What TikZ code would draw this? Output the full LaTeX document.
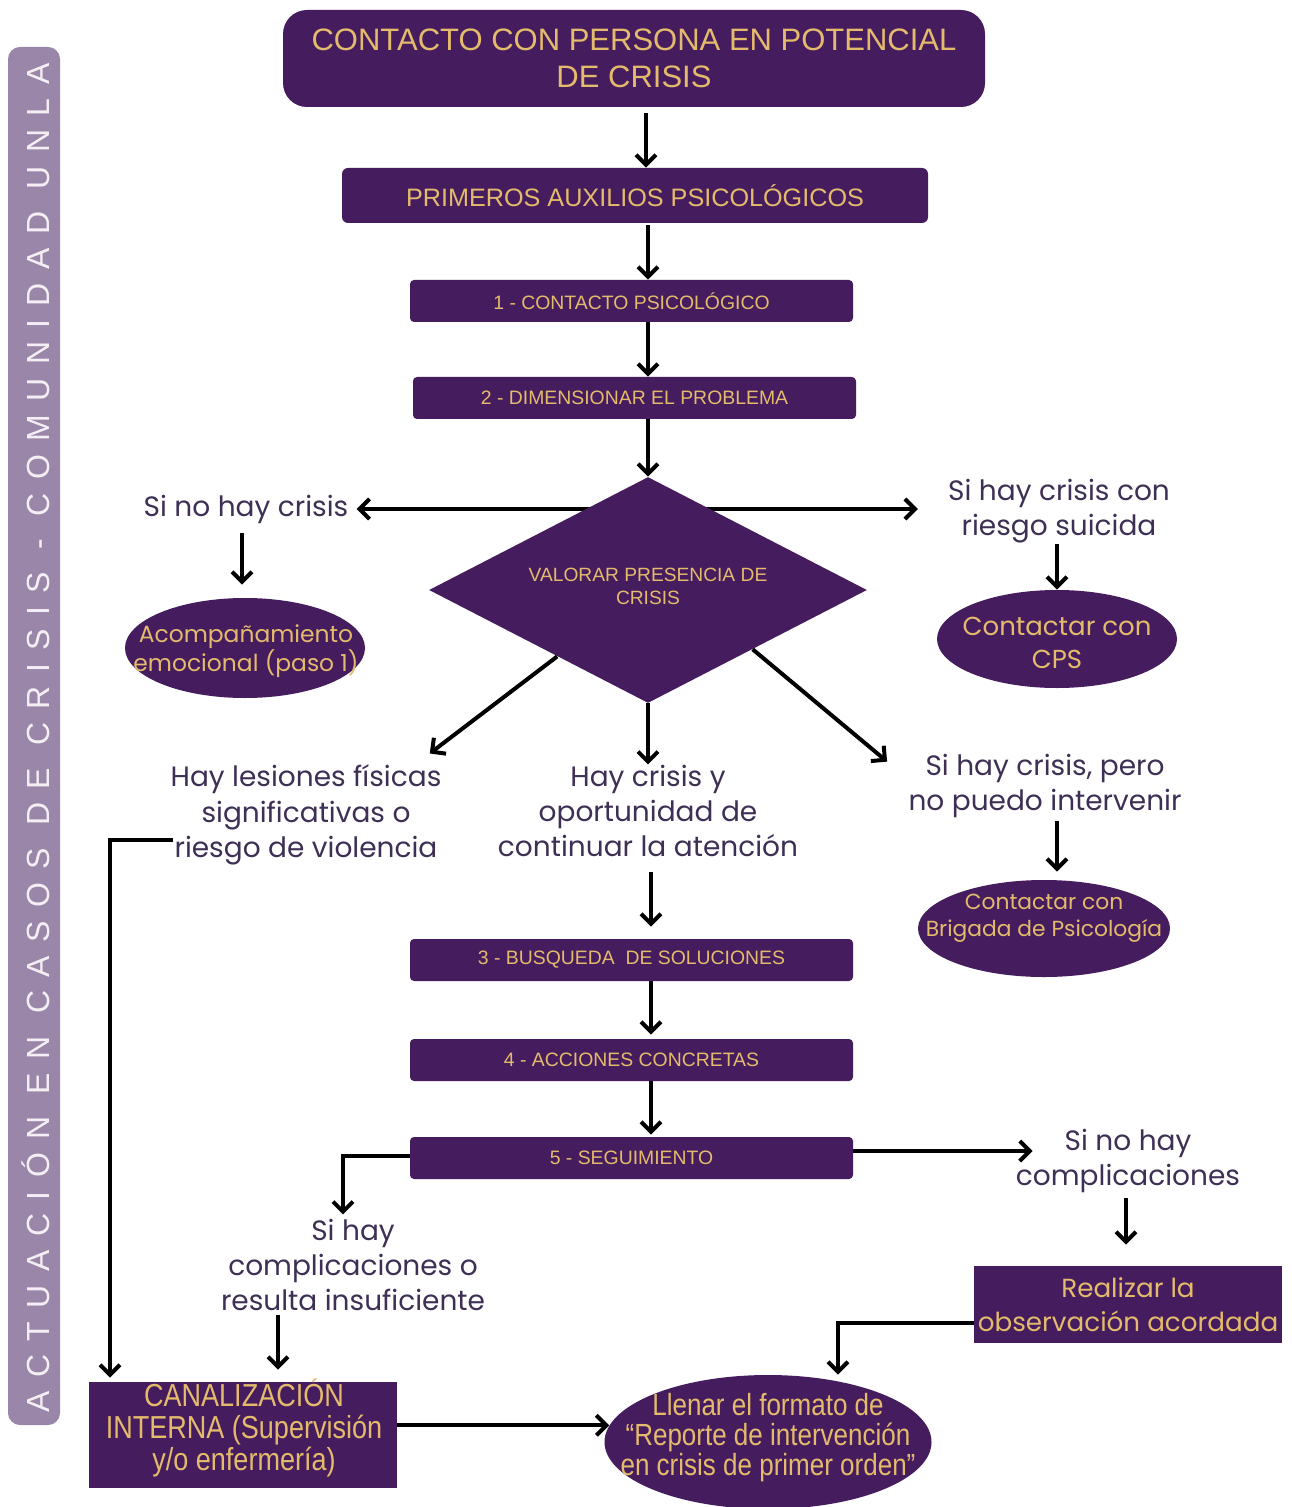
\documentclass[tikz,border=0pt]{standalone}
\usepackage{fontspec}
\setmainfont{Liberation Sans}
\newfontfamily\labfont{Poppins}
\newfontfamily\narrowfont[FakeStretch=0.85]{Liberation Sans}
\newfontfamily\sidefont[LetterSpace=42]{Liberation Sans}
\usetikzlibrary{shapes.geometric,arrows.meta,calc}
\definecolor{pur}{HTML}{451D5E}
\definecolor{gold}{HTML}{E4BA6C}
\definecolor{lab}{HTML}{3E2F55}
\definecolor{side}{HTML}{9A86A8}
\definecolor{sidetxt}{HTML}{F3EFF5}
\begin{document}
\begin{tikzpicture}[x=0.5pt,y=-0.5pt,
  box/.style={rectangle, fill=pur, text=gold, inner sep=0pt, align=center},
  bar/.style={box, minimum width=221.5pt, minimum height=21pt, rounded corners=2pt, font=\fontsize{9.7}{11}\selectfont},
  oval/.style={ellipse, fill=pur, inner sep=0pt},
  ovaltext/.style={text=gold, inner sep=0pt, align=center},
  lbl/.style={text=lab, align=center, inner sep=0pt, font=\labfont\fontsize{14}{17.7}\selectfont},
  arr/.style={line width=2pt, -{Straight Barb[length=5pt,width=10pt]}}]
\useasboundingbox (0,0) rectangle (1291,1507);
\fill[white] (0,0) rectangle (1291,1507);

% side bar
\fill[side, rounded corners=6pt] (8,47) rectangle (60,1425);
\node[rotate=90, text=sidetxt, inner sep=0pt, font=\sidefont\fontsize{16}{16}\selectfont] (sidet) at (36,738) {ACTUACIÓN EN CASOS DE CRISIS - COMUNIDAD UNLA};

% axis coordinates
\coordinate (a646) at (646,0);
\coordinate (a648) at (648,0);
\coordinate (a651) at (651,0);
\coordinate (a242) at (242,0);
\coordinate (a1057) at (1057,0);
\coordinate (a343) at (343,0);
\coordinate (a278) at (278,0);
\coordinate (a1126) at (1126,0);
\coordinate (a838) at (838,0);
\coordinate (a110) at (110,0);

% top boxes
\node[box, minimum width=351pt, minimum height=48.5pt, rounded corners=12pt, font=\fontsize{15.5}{18.5}\selectfont] (top) at (634,58.5) {CONTACTO CON PERSONA EN POTENCIAL\\DE CRISIS};
\node[box, minimum width=293pt, minimum height=27.5pt, rounded corners=3pt, font=\fontsize{12.6}{14}\selectfont] (prim) at (635,195.5) {PRIMEROS AUXILIOS PSICOLÓGICOS};
\node[bar] (c1) at (631.5,301) {1 - CONTACTO PSICOLÓGICO};
\node[bar] (c2) at (634.5,398) {2 - DIMENSIONAR EL PROBLEMA};

% side labels of the decision
\node[lbl] (nocrisis) at (246,509) {Si no hay crisis};
\node[lbl] (suic) at (1059,511) {Si hay crisis con\\riesgo suicida};
\draw[line width=2pt, {Straight Barb[length=5pt,width=10pt]}-{Straight Barb[length=5pt,width=10pt]}, shorten <=4pt, shorten >=15pt] (nocrisis.east) -- (suic.west |- nocrisis.east);

% decision
\node[diamond, aspect=2, fill=pur, inner sep=0pt, minimum width=219pt, minimum height=113pt] (d) at (648,590) {};
\node[ovaltext, font=\fontsize{9.6}{11.5}\selectfont] (dT) at (648,586) {VALORAR PRESENCIA DE\\CRISIS};

\node[oval, minimum width=120pt, minimum height=50pt] (acomp) at (245,648) {};
\node[ovaltext, font=\labfont\fontsize{11.7}{14.5}\selectfont] (acompT) at (246,651) {Acompañamiento\\emocional (paso 1)};
\node[oval, minimum width=120pt, minimum height=49pt] (cps) at (1057,639) {};
\node[ovaltext, font=\labfont\fontsize{13}{16.5}\selectfont] (cpsT) at (1057,643) {Contactar con\\CPS};

\node[lbl] (les) at (306,815) {Hay lesiones físicas\\significativas o\\riesgo de violencia};
\node[lbl] (cris) at (648,811) {Hay crisis y\\oportunidad de\\continuar la atención};
\node[lbl] (pero) at (1045,786) {Si hay crisis, pero\\no puedo intervenir};

\node[oval, minimum width=126pt, minimum height=48.5pt] (brig) at (1044,928.5) {};
\node[ovaltext, font=\labfont\fontsize{10.9}{13.5}\selectfont] (brigT) at (1044,918) {Contactar con\\Brigada de Psicología};

\node[bar] (b3) at (631.5,960) {3 - BUSQUEDA\ \ DE SOLUCIONES};
\node[bar] (b4) at (631.5,1060) {4 - ACCIONES CONCRETAS};
\node[bar] (b5) at (631.5,1158) {5 - SEGUIMIENTO};

\node[lbl] (sihay) at (353,1265) {Si hay\\complicaciones o\\resulta insuficiente};
\node[lbl] (sino) at (1128,1161) {Si no hay\\complicaciones};

\node[box, minimum width=154pt, minimum height=38.5pt, font=\labfont\fontsize{13.1}{17}\selectfont] (real) at (1128,1304.5) {Realizar la\\observación acordada};
\node[box, minimum width=154pt, minimum height=53pt] (canal) at (243,1435) {};
\node[ovaltext, font=\narrowfont\fontsize{15.9}{16}\selectfont] (canalT) at (244,1428) {CANALIZACIÓN\\INTERNA (Supervisión\\y/o enfermería)};
\node[oval, minimum width=163.5pt, minimum height=67pt] (llen) at (768,1442) {};
\node[ovaltext, font=\narrowfont\fontsize{15.3}{15}\selectfont] (llenT) at (768,1438) {Llenar el formato de\\“Reporte de intervención\\en crisis de primer orden”};

% connectors
\draw[arr, shorten <=3pt] (top.south -| a646) -- (prim.north -| a646);
\draw[arr, shorten <=1pt] (prim.south -| a648) -- (c1.north -| a648);
\draw[arr] (c1.south -| a648) -- (c2.north -| a648);
\draw[arr] (c2.south -| a648) -- (d.north);
\draw[arr, shorten <=4.5pt, shorten >=6.5pt] (nocrisis.south -| a242) -- (acomp.north -| a242);
\draw[arr] (suic.south -| a1057) -- (cps.north -| a1057);

\coordinate (tipL) at ($(les.north east)+(-12,-11)$);
\coordinate (tipR) at ($(pero.north west)+(-21,8)$);
\draw[arr] ($(d.west)!0.586!(d.south)$) -- (tipL);
\draw[arr] (d.south) -- (cris.north);
\draw[arr] ($(d.east)!0.523!(d.south)$) -- (tipR);

\draw[arr, shorten <=1.5pt, shorten >=4pt] (pero.south -| a1057) -- (brig.north -| a1057);
\draw[arr, shorten <=7pt, shorten >=6pt] (cris.south -| a651) -- (b3.north -| a651);
\draw[arr, shorten >=2pt] (b3.south -| a651) -- (b4.north -| a651);
\draw[arr, shorten >=1pt] (b4.south -| a651) -- (b5.north -| a651);

\draw[arr, shorten >=2pt] ($(b5.west)+(0,-2)$) -| (sihay.north -| a343);
\draw[arr, shorten <=1.5pt, shorten >=6pt] (sihay.south -| a278) -- (canal.north -| a278);
\coordinate (sinotip) at ($(sino.west)+(17,-10)$);
\draw[arr] ($(b5.east)+(0,-7)$) -- (sinotip);
\draw[arr, shorten <=2.5pt, shorten >=10.5pt] (sino.south -| a1126) -- (real.north -| a1126);
\draw[arr] ($(real.west)+(0,18)$) -| (llen.north -| a838);
\draw[arr, shorten >=2pt] ($(les.west)+(3,25)$) -| (canal.north -| a110);
\draw[arr] (canal.east |- llen.174) -- (llen.174);
\end{tikzpicture}
\end{document}
